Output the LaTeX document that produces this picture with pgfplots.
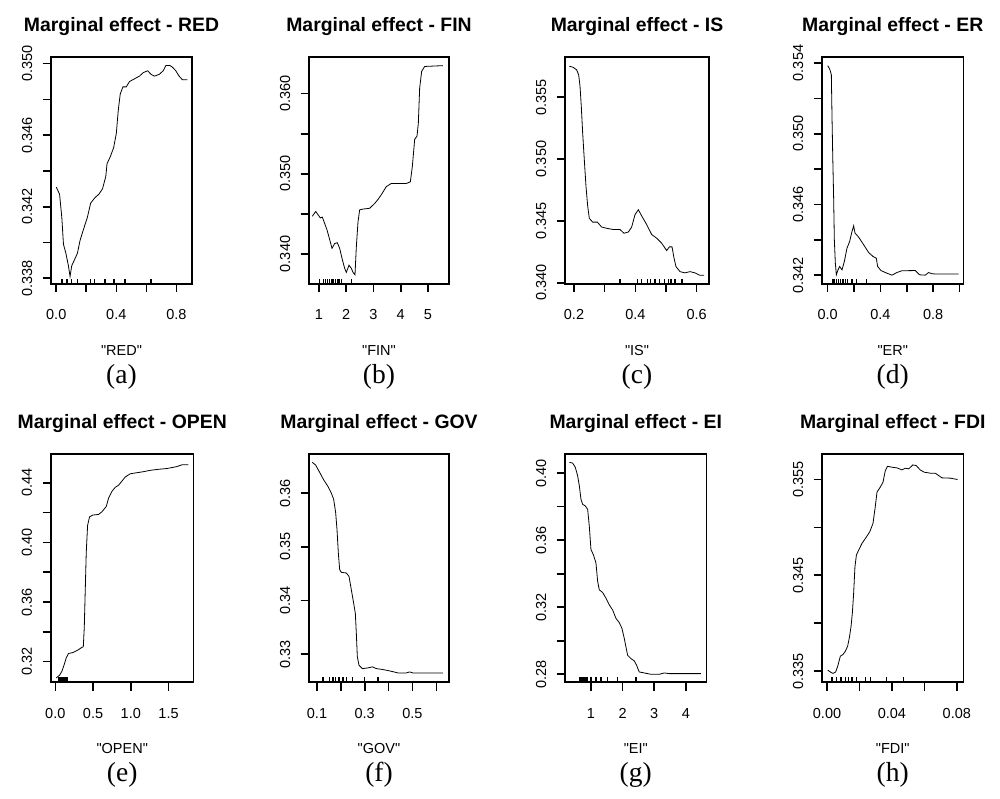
\documentclass[border=0pt]{standalone}
\usepackage{fontspec}
\setmainfont{Liberation Sans}
\newfontfamily\capfont{Liberation Serif}
\usepackage{pgfplots}
\pgfplotsset{compat=1.18}
\pgfplotsset{
 me/.style={
  scale only axis, anchor=south west,
  axis line style={line width=0.9pt},
  tick style={black, line width=0.8pt},
  tick align=outside, major tick length=4.25pt,
  xtick pos=bottom, ytick pos=left,
  minor tick num=0, scaled ticks=false,
  clip marker paths=true,
  cycle list={{black, no markers, line width=1pt}},
  title style={font=\bfseries\fontsize{9.7}{11}\selectfont, at={(axis description cs:0.5,1)}, anchor=base, yshift=6.75pt},
  xticklabel style={font=\fontsize{7.25}{8}\selectfont, anchor=base, yshift=-13.75pt},
  yticklabel style={font=\fontsize{7.25}{8}\selectfont, rotate=90, anchor=base, yshift=5.25pt},
  xlabel style={font=\fontsize{7.25}{8}\selectfont, at={(axis description cs:0.5,0)}, anchor=base, yshift=-35.6pt},
  /pgf/number format/assume math mode=true,
 },
 cap/.style={after end axis/.code={\node[font=\capfont\fontsize{13.75}{14}\selectfont, anchor=base, yshift=-49.8pt] at (axis description cs:0.5,0) {#1};}},
 rug/.style={black, only marks, mark=|, mark size=2.4pt, mark options={line width=0.75pt}},
}
\begin{document}
\begin{tikzpicture}
\useasboundingbox (0,0) rectangle (500pt,399pt);
% (a)
\begin{axis}[me, at={(25.5pt,257pt)}, width=70.5pt, height=113.5pt,
  xmin=-0.035, xmax=0.904, ymin=0.33768, ymax=0.35037,
  xtick={0,0.2,0.4,0.6,0.8}, xticklabels={0.0,,0.4,,0.8},
  ytick={0.338,0.340,0.342,0.344,0.346,0.348,0.350}, yticklabels={0.338,,0.342,,0.346,,0.350},
  title={Marginal effect - RED}, xlabel={\textquotedbl RED\textquotedbl}, cap={(a)}]
\addplot coordinates {(0,0.3431)(0.022,0.3427)(0.037,0.3414)(0.048,0.3399)(0.064,0.3394)(0.081,0.3387)(0.092,0.3381)(0.103,0.3387)(0.114,0.3389)(0.141,0.3394)(0.158,0.3401)(0.180,0.3407)(0.207,0.3414)(0.229,0.3422)(0.257,0.3425)(0.284,0.3427)(0.308,0.3430)(0.330,0.3437)(0.338,0.3444)(0.360,0.3448)(0.382,0.3453)(0.400,0.3461)(0.413,0.3474)(0.426,0.3483)(0.444,0.3487)(0.466,0.3487)(0.488,0.3490)(0.510,0.3491)(0.532,0.3492)(0.554,0.3493)(0.580,0.3495)(0.609,0.3496)(0.631,0.3494)(0.653,0.3493)(0.686,0.3494)(0.712,0.3496)(0.730,0.3499)(0.756,0.3499)(0.774,0.3498)(0.796,0.3496)(0.818,0.3493)(0.840,0.3491)(0.873,0.3491)};
\addplot[rug] coordinates {(0.037,0.33768)(0.070,0.33768)(0.103,0.33768)(0.141,0.33768)(0.229,0.33768)(0.253,0.33768)(0.323,0.33768)(0.384,0.33768)(0.457,0.33768)(0.631,0.33768)};
\end{axis}
% (b)
\begin{axis}[me, at={(154.5pt,257pt)}, width=70pt, height=113.5pt,
  xmin=0.633, xmax=5.771, ymin=0.33625, ymax=0.36458,
  xtick={1,2,3,4,5}, xticklabels={1,2,3,4,5},
  ytick={0.340,0.345,0.350,0.355,0.360}, yticklabels={0.340,,0.350,,0.360},
  title={Marginal effect - FIN}, xlabel={\textquotedbl FIN\textquotedbl}, cap={(b)}]
\addplot coordinates {(0.755,0.3447)(0.878,0.3453)(0.963,0.3449)(1.049,0.3445)(1.122,0.3446)(1.208,0.3438)(1.294,0.3430)(1.391,0.3418)(1.477,0.3407)(1.575,0.3413)(1.673,0.3414)(1.758,0.3407)(1.856,0.3393)(1.942,0.3382)(2.003,0.3377)(2.101,0.3386)(2.187,0.3382)(2.248,0.3377)(2.321,0.3374)(2.370,0.3409)(2.431,0.3440)(2.492,0.3455)(2.615,0.3456)(2.859,0.3457)(3.043,0.3463)(3.165,0.3468)(3.287,0.3474)(3.471,0.3484)(3.654,0.3488)(3.899,0.3488)(4.205,0.3488)(4.352,0.3490)(4.425,0.3509)(4.511,0.3543)(4.596,0.3547)(4.645,0.3563)(4.694,0.3607)(4.768,0.3628)(4.878,0.3634)(5.550,0.3635)};
\addplot[rug] coordinates {(1.02,0.33625)(1.17,0.33625)(1.24,0.33625)(1.32,0.33625)(1.39,0.33625)(1.47,0.33625)(1.54,0.33625)(1.61,0.33625)(1.69,0.33625)(1.76,0.33625)(1.83,0.33625)(2.19,0.33625)};
\end{axis}
% (c)
\begin{axis}[me, at={(282.5pt,257pt)}, width=72pt, height=113.5pt,
  xmin=0.1707, xmax=0.6402, ymin=0.3399, ymax=0.35824,
  xtick={0.2,0.3,0.4,0.5,0.6}, xticklabels={0.2,,0.4,,0.6},
  ytick={0.340,0.345,0.350,0.355}, yticklabels={0.340,0.345,0.350,0.355},
  title={Marginal effect - IS}, xlabel={\textquotedbl IS\textquotedbl}, cap={(c)}]
\addplot coordinates {(0.1848,0.3575)(0.1978,0.3574)(0.2087,0.3572)(0.2152,0.3568)(0.2196,0.3559)(0.2239,0.3542)(0.2283,0.3521)(0.2337,0.3499)(0.2391,0.3478)(0.2446,0.3462)(0.2500,0.3452)(0.2609,0.3449)(0.2761,0.3449)(0.2902,0.3445)(0.3065,0.3444)(0.3283,0.3443)(0.3500,0.3443)(0.3630,0.3440)(0.3772,0.3441)(0.3880,0.3445)(0.3989,0.3455)(0.4098,0.3459)(0.4207,0.3454)(0.4370,0.3447)(0.4533,0.3439)(0.4696,0.3436)(0.4859,0.3432)(0.5022,0.3426)(0.5109,0.3429)(0.5196,0.3429)(0.5261,0.3420)(0.5326,0.3413)(0.5457,0.3409)(0.5620,0.3408)(0.5783,0.3409)(0.5946,0.3408)(0.6109,0.3406)(0.6239,0.3406)};
\addplot[rug] coordinates {(0.350,0.3399)(0.4065,0.3399)(0.4207,0.3399)(0.4391,0.3399)(0.4500,0.3399)(0.4641,0.3399)(0.4783,0.3399)(0.4946,0.3399)(0.5076,0.3399)(0.5163,0.3399)(0.5293,0.3399)(0.5522,0.3399)};
\end{axis}
% (d)
\begin{axis}[me, at={(411pt,257pt)}, width=70.75pt, height=113.5pt,
  xmin=-0.043, xmax=1.030, ymin=0.3415, ymax=0.35434,
  xtick={0,0.2,0.4,0.6,0.8,1.0}, xticklabels={0.0,,0.4,,0.8,},
  ytick={0.342,0.344,0.346,0.348,0.350,0.352,0.354}, yticklabels={0.342,,0.346,,0.350,,0.354},
  title={Marginal effect - ER}, xlabel={\textquotedbl ER\textquotedbl}, cap={(d)}]
\addplot coordinates {(0.0,0.35385)(0.0152,0.35366)(0.0278,0.35334)(0.0328,0.35098)(0.0379,0.34891)(0.0455,0.34626)(0.0505,0.34400)(0.0581,0.34268)(0.0657,0.34202)(0.0783,0.34230)(0.0909,0.34249)(0.1086,0.34230)(0.1263,0.34277)(0.1465,0.34353)(0.1667,0.34391)(0.1843,0.34447)(0.1970,0.34479)(0.2071,0.34438)(0.2348,0.34415)(0.2727,0.34372)(0.3106,0.34328)(0.3434,0.34306)(0.3687,0.34296)(0.3788,0.34249)(0.4040,0.34226)(0.4495,0.34211)(0.4874,0.34200)(0.5253,0.34215)(0.5631,0.34225)(0.6641,0.34226)(0.6970,0.34202)(0.7399,0.34200)(0.7652,0.34215)(0.7904,0.34208)(0.8283,0.34206)(0.9924,0.34206)};
\addplot[rug] coordinates {(0.036,0.3415)(0.040,0.3415)(0.044,0.3415)(0.048,0.3415)(0.051,0.3415)(0.066,0.3415)(0.081,0.3415)(0.096,0.3415)(0.116,0.3415)(0.134,0.3415)(0.152,0.3415)(0.184,0.3415)(0.217,0.3415)(0.293,0.3415)};
\end{axis}
% (e)
\begin{axis}[me, at={(25.5pt,58pt)}, width=71.25pt, height=114pt,
  xmin=-0.057, xmax=1.831, ymin=0.30634, ymax=0.45936,
  xtick={0,0.5,1.0,1.5}, xticklabels={0.0,0.5,1.0,1.5},
  ytick={0.32,0.34,0.36,0.38,0.40,0.42,0.44}, yticklabels={0.32,,0.36,,0.40,,0.44},
  title={Marginal effect - OPEN}, xlabel={\textquotedbl OPEN\textquotedbl}, cap={(e)}]
\addplot coordinates {(0.013,0.3091)(0.057,0.3109)(0.088,0.3136)(0.119,0.3182)(0.146,0.3227)(0.176,0.3255)(0.234,0.3261)(0.296,0.3277)(0.353,0.3296)(0.371,0.3300)(0.384,0.3432)(0.397,0.3683)(0.410,0.3933)(0.428,0.4115)(0.454,0.4172)(0.498,0.4184)(0.573,0.4188)(0.618,0.4206)(0.675,0.4241)(0.706,0.4298)(0.750,0.4343)(0.794,0.4370)(0.838,0.4384)(0.882,0.4411)(0.926,0.4439)(0.993,0.4461)(1.081,0.4468)(1.169,0.4475)(1.257,0.4484)(1.367,0.4491)(1.478,0.4496)(1.610,0.4509)(1.676,0.4521)(1.764,0.4521)};
\addplot[rug] coordinates {(0.046,0.30634)(0.052,0.30634)(0.058,0.30634)(0.064,0.30634)(0.070,0.30634)(0.076,0.30634)(0.082,0.30634)(0.088,0.30634)(0.094,0.30634)(0.100,0.30634)(0.106,0.30634)(0.112,0.30634)(0.118,0.30634)(0.124,0.30634)(0.130,0.30634)(0.136,0.30634)(0.142,0.30634)(0.148,0.30634)(0.154,0.30634)};
\end{axis}
% (f)
\begin{axis}[me, at={(154.5pt,58pt)}, width=70pt, height=114pt,
  xmin=0.0665, xmax=0.6531, ymin=0.32481, ymax=0.36731,
  xtick={0.1,0.2,0.3,0.4,0.5,0.6}, xticklabels={0.1,,0.3,,0.5,},
  ytick={0.33,0.34,0.35,0.36}, yticklabels={0.33,0.34,0.35,0.36},
  title={Marginal effect - GOV}, xlabel={\textquotedbl GOV\textquotedbl}, cap={(f)}]
\addplot coordinates {(0.0804,0.36575)(0.0944,0.36525)(0.1112,0.36388)(0.1279,0.36250)(0.1461,0.36125)(0.1601,0.36000)(0.1698,0.35888)(0.1782,0.35638)(0.1838,0.35325)(0.1894,0.34888)(0.1950,0.34575)(0.2020,0.34525)(0.2229,0.34513)(0.2341,0.34450)(0.2439,0.34200)(0.2536,0.33950)(0.2606,0.33763)(0.2648,0.33388)(0.2690,0.32950)(0.2760,0.32794)(0.2899,0.32731)(0.3137,0.32744)(0.3318,0.32763)(0.3486,0.32731)(0.3765,0.32713)(0.4045,0.32688)(0.4394,0.32650)(0.4743,0.32650)(0.4883,0.32669)(0.5022,0.32650)(0.6279,0.32650)};
\addplot[rug] coordinates {(0.125,0.32481)(0.153,0.32481)(0.167,0.32481)(0.178,0.32481)(0.192,0.32481)(0.209,0.32481)(0.223,0.32481)(0.248,0.32481)(0.300,0.32481)(0.356,0.32481)};
\end{axis}
% (g)
\begin{axis}[me, at={(282.5pt,58pt)}, width=70.75pt, height=114pt,
  xmin=0.179, xmax=4.653, ymin=0.2754, ymax=0.4114,
  xtick={1,2,3,4}, xticklabels={1,2,3,4},
  ytick={0.28,0.30,0.32,0.34,0.36,0.38,0.40}, yticklabels={0.28,,0.32,,0.36,,0.40},
  title={Marginal effect - EI}, xlabel={\textquotedbl EI\textquotedbl}, cap={(g)}]
\addplot coordinates {(0.316,0.4064)(0.421,0.4060)(0.505,0.4034)(0.579,0.3984)(0.632,0.3924)(0.684,0.3844)(0.737,0.3814)(0.821,0.3804)(0.895,0.3784)(0.947,0.3684)(1.000,0.3544)(1.074,0.3514)(1.158,0.3464)(1.211,0.3354)(1.263,0.3304)(1.368,0.3288)(1.474,0.3254)(1.579,0.3214)(1.684,0.3184)(1.789,0.3134)(1.895,0.3108)(1.979,0.3074)(2.053,0.3014)(2.105,0.2964)(2.158,0.2914)(2.263,0.2894)(2.368,0.2880)(2.442,0.2854)(2.526,0.2814)(2.684,0.2808)(2.895,0.2800)(3.053,0.2800)(3.158,0.2800)(3.316,0.2808)(3.474,0.2804)(4.474,0.2804)};
\addplot[rug] coordinates {(0.653,0.2754)(0.716,0.2754)(0.758,0.2754)(0.800,0.2754)(0.842,0.2754)(0.895,0.2754)(1.0,0.2754)(1.158,0.2754)(1.316,0.2754)(1.526,0.2754)(1.842,0.2754)(2.421,0.2754)};
\end{axis}
% (h)
\begin{axis}[me, at={(411pt,58pt)}, width=70.75pt, height=114pt,
  xmin=-0.0031, xmax=0.0841, ymin=0.33386, ymax=0.35766,
  xtick={0,0.02,0.04,0.06,0.08}, xticklabels={0.00,,0.04,,0.08},
  ytick={0.335,0.340,0.345,0.350,0.355}, yticklabels={0.335,,0.345,,0.355},
  title={Marginal effect - FDI}, xlabel={\textquotedbl FDI\textquotedbl}, cap={(h)}]
\addplot coordinates {(0.0004,0.33510)(0.0021,0.33490)(0.0037,0.33476)(0.0053,0.33490)(0.0066,0.33552)(0.0082,0.33656)(0.0098,0.33673)(0.0113,0.33708)(0.0127,0.33760)(0.0139,0.33863)(0.0148,0.33967)(0.0156,0.34106)(0.0164,0.34313)(0.0172,0.34590)(0.0181,0.34711)(0.0195,0.34763)(0.0215,0.34832)(0.0236,0.34884)(0.0263,0.34953)(0.0283,0.35040)(0.0297,0.35213)(0.0308,0.35369)(0.0328,0.35420)(0.0345,0.35472)(0.0359,0.35593)(0.0373,0.35638)(0.0400,0.35628)(0.0431,0.35621)(0.0462,0.35600)(0.0482,0.35618)(0.0503,0.35611)(0.0529,0.35652)(0.0550,0.35645)(0.0574,0.35600)(0.0599,0.35576)(0.0636,0.35566)(0.0667,0.35566)(0.0687,0.35542)(0.0708,0.35517)(0.0759,0.35514)(0.0804,0.35500)};
\addplot[rug] coordinates {(0.0031,0.33386)(0.0057,0.33386)(0.0086,0.33386)(0.0115,0.33386)(0.0133,0.33386)(0.0154,0.33386)(0.0181,0.33386)(0.0236,0.33386)(0.0267,0.33386)(0.0365,0.33386)(0.0472,0.33386)};
\end{axis}
\end{tikzpicture}
\end{document}
